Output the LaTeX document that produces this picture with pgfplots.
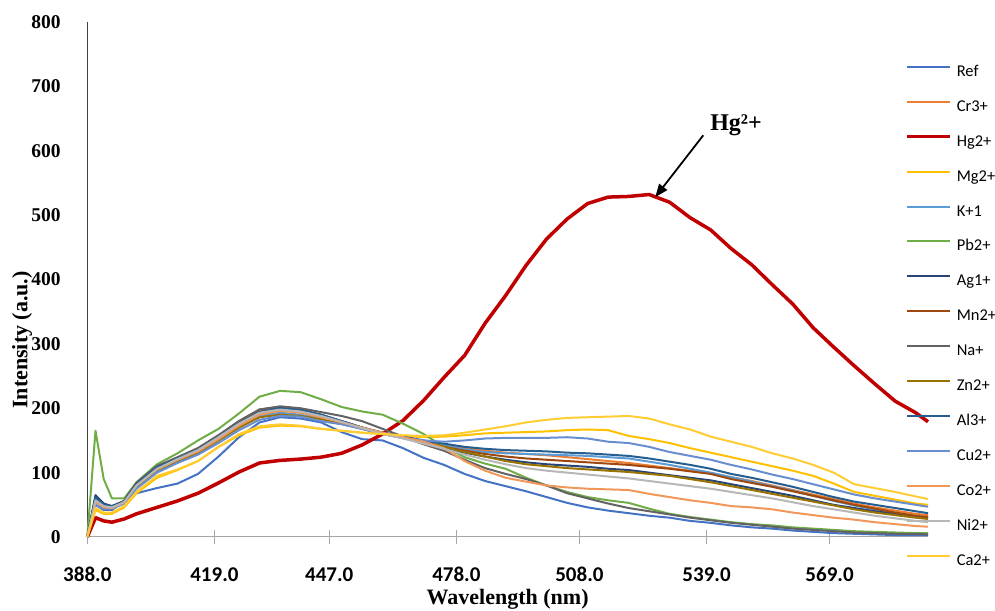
\documentclass[border=0pt]{standalone}
\usepackage{fontspec}
\setmainfont{Liberation Serif}
\newfontfamily\calibri{Carlito}
\usepackage{pgfplots}
\usepackage{pgfplotstable}
\pgfplotsset{compat=1.18}
\usetikzlibrary{arrows.meta}

\definecolor{cRef}{HTML}{4472C4}
\definecolor{cCr}{HTML}{ED7D31}
\definecolor{cHg}{HTML}{C00000}
\definecolor{cMg}{HTML}{FFC000}
\definecolor{cK}{HTML}{5B9BD5}
\definecolor{cPb}{HTML}{70AD47}
\definecolor{cAg}{HTML}{264478}
\definecolor{cMn}{HTML}{9E480E}
\definecolor{cNa}{HTML}{636363}
\definecolor{cZn}{HTML}{997300}
\definecolor{cAl}{HTML}{255E91}
\definecolor{cCu}{HTML}{698ED0}
\definecolor{cCo}{HTML}{F1975A}
\definecolor{cNi}{HTML}{B7B7B7}
\definecolor{cCa}{HTML}{FFCD33}

% emission spectra, intensity (a.u.) vs wavelength (nm)
\pgfplotstableread{
x   Ref Cr  Hg  Mg  K   Pb  Ag  Mn  Na  Zn  Al  Cu  Co  Ni  Ca
388 0   0   0   0   0   0   0   0   0   0   0   0   0   0   0
390 50  58  30  42  55  165 65  60  58  56  62  50  55  57  45
392 42  48  25  36  47  90  52  50  48  47  50  44  46  48  38
394 42  46  23  36  45  60  48  47  47  45  48  44  45  46  38
397 55  54  28  46  52  60  56  55  56  53  55  52  54  54  48
400 68  80  36  68  76  85  84  82  84  78  82  75  80  80  70
405 76  106 46  92  102 113 110 108 110 104 108 100 105 106 95
410 83  120 56  104 116 130 123 121 124 118 122 115 120 121 105
415 98  134 68  118 130 150 138 136 138 131 135 128 133 135 118
420 125 153 84  140 150 168 158 156 158 150 155 146 152 155 140
425 155 174 101 158 170 192 180 177 180 170 176 166 173 176 160
430 178 192 115 170 188 218 198 195 198 186 194 182 190 193 172
435 186 197 119 173 193 227 202 199 203 190 200 188 196 198 175
440 184 194 121 172 190 225 198 196 200 188 197 187 193 195 173
445 178 187 124 168 184 214 190 189 194 183 190 180 186 188 168
450 163 178 130 165 177 202 180 180 188 176 180 175 178 179 165
455 152 169 143 162 168 195 170 170 180 168 170 168 170 169 162
460 150 161 160 160 160 190 161 162 168 160 162 160 162 160 160
465 138 155 181 157 154 176 154 155 156 154 156 154 155 153 158
470 123 149 212 155 148 160 146 148 144 147 150 150 148 145 157
475 112 143 248 156 142 140 138 140 134 140 145 148 138 137 158
480 98  138 282 158 136 124 131 134 120 132 140 150 118 128 162
485 87  134 332 161 132 114 125 129 107 125 137 153 103 120 167
490 79  131 375 162 130 106 120 125 98  118 135 154 92  113 172
495 71  129 422 163 129 92  116 122 90  113 134 154 86  107 178
500 62  127 463 164 128 80  113 120 80  110 133 154 80  103 182
505 53  124 494 166 127 70  111 118 68  107 131 155 77  100 185
510 46  121 518 167 126 62  109 116 60  105 130 153 75  97  186
515 41  118 528 166 124 57  106 114 52  103 128 148 74  94  187
520 37  115 529 157 122 53  104 112 45  101 126 146 73  91  188
525 33  111 532 152 117 44  100 109 40  98  122 140 67  87  184
530 30  107 520 146 112 36  96  106 35  95  117 132 62  83  175
535 25  103 496 138 106 31  92  102 30  90  112 126 57  79  167
540 22  99  477 131 100 27  88  98  26  85  106 120 53  75  156
545 18  93  448 124 93  23  82  90  22  79  98  112 48  70  148
550 15  87  423 117 86  20  76  84  19  73  92  105 46  65  140
555 13  80  392 110 79  18  70  78  16  67  85  97  43  60  130
560 10  73  362 103 72  15  64  71  13  61  78  90  38  54  122
565 8   66  325 95  64  13  57  64  11  55  70  82  34  48  112
570 6   59  295 83  56  11  50  57  9   49  62  74  30  43  100
575 5   52  266 70  49  9   45  50  7   43  55  66  27  38  82
580 4   46  238 64  43  8   40  44  6   38  50  60  23  33  76
585 3   41  211 58  37  7   36  38  5   34  45  55  20  29  70
590 3   36  193 52  32  6   32  33  5   30  40  50  17  25  63
593 3   34  179 50  30  6   30  31  4   28  37  47  16  23  59
}\spectra

\begin{document}
\begin{tikzpicture}
\useasboundingbox (0,0) rectangle (995pt,610pt);
\begin{axis}[
  at={(87.3pt,73pt)}, anchor=south west,
  scale only axis,
  width=840.7pt, height=515pt,
  xmin=388, xmax=593, ymin=0, ymax=800,
  axis x line*=bottom, axis y line*=left,
  axis line style={-},
  x axis line style={draw=black!35, line width=1pt},
  y axis line style={draw=black!75, line width=1.2pt},
  xtick={388,419,447,478,508,539,569},
  xticklabels={388.0,419.0,447.0,478.0,508.0,539.0,569.0},
  ytick={0,100,...,800},
  tick align=center,
  major tick length=13pt,
  xtick style={draw=black!35, line width=1pt},
  ytick style={draw=none},
  xticklabel style={font=\calibri\bfseries\fontsize{21}{24}\selectfont, anchor=base, inner sep=0pt, yshift=-38pt},
  yticklabel style={font=\bfseries\fontsize{19.5}{22}\selectfont, anchor=east, inner sep=0pt, xshift=-20pt},
  /pgf/number format/assume math mode=true,
  every axis x label/.style={at={(axis description cs:0.5,0)}, anchor=base, yshift=-67.5pt},
  every axis y label/.style={at={(axis description cs:0,0.3825)}, rotate=90, anchor=base, yshift=60pt},
  xlabel={\bfseries\fontsize{22}{26}\selectfont Wavelength (nm)},
  ylabel={\bfseries\fontsize{22}{26}\selectfont Intensity (a.u.)},
  legend cell align=left,
  legend style={at={(0.9727,0.918)}, anchor=north west, draw=none, fill=none,
    inner sep=0pt, row sep=18.9pt,
    nodes={inner sep=0pt, text height=12pt, text depth=4pt},
    font=\calibri\fontsize{16.5}{20}\selectfont,
    /tikz/every odd column/.append style={column sep=5pt}},
  legend image code/.code={\path (0pt,0pt); \draw[#1] (0pt,5.5pt) -- (43pt,5.5pt);},
  every axis plot/.append style={line width=2pt, line join=round, mark=none},
  clip=false,
]
\addplot[cRef] table[x=x, y=Ref] {\spectra}; \addlegendentry{Ref}
\addplot[cCr] table[x=x, y=Cr] {\spectra}; \addlegendentry{Cr3+}
\addplot[cHg, line width=3.5pt] table[x=x, y=Hg] {\spectra}; \addlegendentry{Hg2+}
\addplot[cMg] table[x=x, y=Mg] {\spectra}; \addlegendentry{Mg2+}
\addplot[cK] table[x=x, y=K] {\spectra}; \addlegendentry{K+1}
\addplot[cPb] table[x=x, y=Pb] {\spectra}; \addlegendentry{Pb2+}
\addplot[cAg] table[x=x, y=Ag] {\spectra}; \addlegendentry{Ag1+}
\addplot[cMn] table[x=x, y=Mn] {\spectra}; \addlegendentry{Mn2+}
\addplot[cNa] table[x=x, y=Na] {\spectra}; \addlegendentry{Na+}
\addplot[cZn] table[x=x, y=Zn] {\spectra}; \addlegendentry{Zn2+}
\addplot[cAl] table[x=x, y=Al] {\spectra}; \addlegendentry{Al3+}
\addplot[cCu] table[x=x, y=Cu] {\spectra}; \addlegendentry{Cu2+}
\addplot[cCo] table[x=x, y=Co] {\spectra}; \addlegendentry{Co2+}
\addplot[cNi] table[x=x, y=Ni] {\spectra}; \addlegendentry{Ni2+}
\addplot[cCa] table[x=x, y=Ca] {\spectra}; \addlegendentry{Ca2+}

\node[font=\bfseries\fontsize{24}{28}\selectfont, inner sep=0pt] at (axis cs:546.2,640) {Hg²+};
\draw[line width=1.8pt, -{Triangle[length=13pt,width=10pt]}] (axis cs:538.2,624) -- (axis cs:526.5,528);
\end{axis}
\end{tikzpicture}
\end{document}
